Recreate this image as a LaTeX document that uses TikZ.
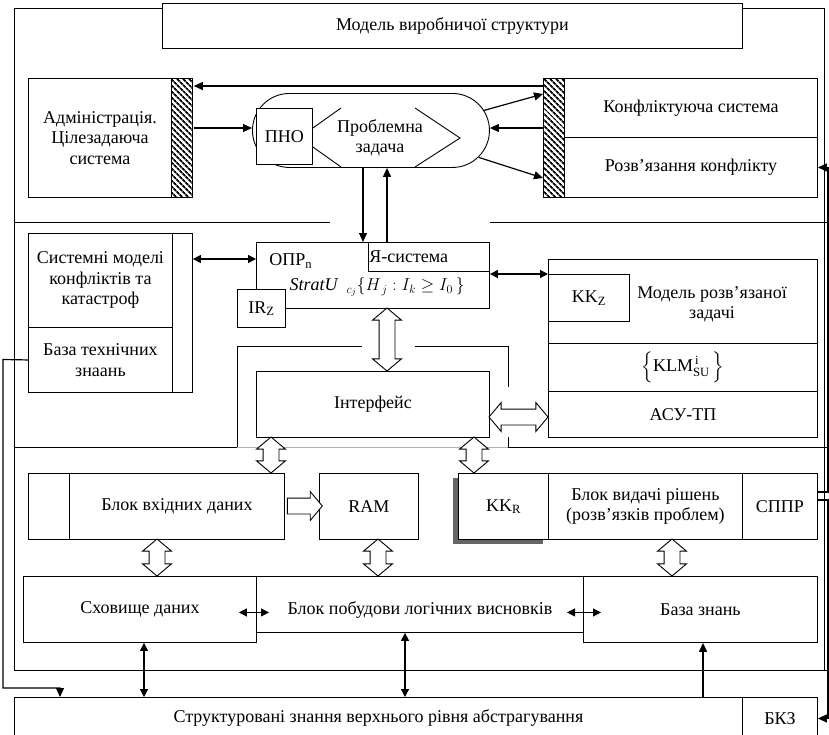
\documentclass[tikz,border=0pt]{standalone}
\usepackage{amsmath}
\usepackage{fontspec}
\setmainfont{Liberation Serif}
\usetikzlibrary{arrows.meta,calc,shapes.arrows,patterns.meta,shadows}

\begin{document}
\begin{tikzpicture}[x=1pt, y=-1pt, line width=0.9pt, every node/.style={font=\fontsize{18}{20.5}\selectfont, align=center}, box/.style={draw, fill=white, anchor=north west, inner sep=0pt}, hatch/.style={box, pattern={Lines[angle=-45,distance=4pt,line width=1.8pt]}}, arr/.style={-{Triangle[length=9pt,width=8pt]}, line width=1.2pt}, darr/.style={{Triangle[length=8pt,width=8pt]}-{Triangle[length=8pt,width=8pt]}, line width=1.2pt}, hollow/.style={double arrow, draw, fill=white, inner xsep=0pt, inner ysep=7.5pt, double arrow head extend=6.5pt, double arrow tip angle=100}, hollowone/.style={single arrow, draw, fill=white, inner xsep=0pt, inner ysep=7.5pt, single arrow head extend=6.5pt, single arrow tip angle=100}]
\useasboundingbox (0,0) rectangle (829,734);
% outer frame and separators
\draw (162,8) -- (14,8) -- (14,670) -- (828,670);
\draw (742,8) -- (824,8) -- (824,670);
\draw (14,222) -- (330,222); \draw (490,222) -- (828,222);
\draw (14,447) -- (237,447) -- (237,346) -- (362,346);
\draw (415,346) -- (508,346) -- (508,387);
\draw (508,437) -- (508,447) -- (828,447);
\draw[black!30] (237,447) -- (508,447);
\node[box, minimum width=580, minimum height=45] (title) at (162,3) {Модель виробничої структури};
% top level
\node[box, minimum width=143, minimum height=119] (adm) at (28,78) {Адміністрація.\\Цілезадаюча\\система};
\node[hatch, minimum width=21, minimum height=119] (admhatch) at (171,78) {};
\node[hatch, minimum width=21, minimum height=119] (confhatch) at (543,78) {};
\node[box, minimum width=253, minimum height=59] (conf) at (564,78) {Конфліктуюча система};
\node[box, minimum width=253, minimum height=60] (res) at (564,137) {Розв’язання конфлікту};
\node[box, rounded corners=37pt, minimum width=237, minimum height=74] (pill) at (252,93) {};
\node[box, minimum width=56, minimum height=56] (pno) at (256,108) {ПНО};
\node (prob) at (380,138) {Проблемна\\задача};
\draw (pno.east |- 0,128) -- (341,108);
\draw (pno.east |- 0,147) -- (341,167);
\draw (415,108) -- (460,138) -- (415,167);
\draw[arr] (confhatch.west |- 0,86) -- (admhatch.east |- 0,86);
\draw[arr] (admhatch.east |- 0,128) -- (pill.west |- 0,128);
\draw[arr] ($(pill.east)+(-6,-20)$) -- (confhatch.west |- 0,94);
\draw[arr] (confhatch.west |- 0,128) -- (pill.east |- 0,128);
\draw[arr] ($(pill.east)+(-11,27)$) -- (confhatch.west |- 0,178);
% decision maker level
\node[box, minimum width=233, minimum height=66] (opr) at (256,242) {};
\node[box, minimum width=121, minimum height=29, text width=119pt, inner xsep=1pt, align=left] (ya) at (368,242) {Я-система};
\node[anchor=west, inner sep=0pt] (oprn) at (269,261) {ОПР\textsubscript{n}};
\node (strat) at (377,287) {$\mathit{StratU}\ \ {}_{c_j}\{H_{\,j} : I_k \geq I_0\,\}$};
\node[box, minimum width=48, minimum height=38] (irz) at (237,289) {IR\textsubscript{Z}};
\draw[arr] (pill.south -| 363,0) -- (opr.north -| 363,0);
\draw[arr] (ya.north -| 387,0) -- (pill.south -| 387,0);
\node[box, minimum width=20, minimum height=159] (sysstrip) at (172,233) {};
\node[box, minimum width=144, minimum height=94] (sysmod) at (28,233) {Системні моделі\\конфліктів та\\катастроф};
\node[box, minimum width=144, minimum height=65] (techkb) at (28,327) {База технічних\\знаань};
\node[box, minimum width=269, minimum height=84] (modtop) at (548,259) {};
\node (modtext) at (712,304) {Модель розв’язаної\\задачі};
\node[box, minimum width=81, minimum height=47] (kkz) at (548,274) {KK\textsubscript{Z}};
\node[box, minimum width=269, minimum height=48] (klm) at (548,343) {$\Bigl\{\text{KLM}^{\,\text{i}}_{\text{SU}}\,\Bigr\}$};
\node[box, minimum width=269, minimum height=46] (asu) at (548,391) {АСУ-ТП};
\node[box, minimum width=233, minimum height=66] (intf) at (256,371) {Інтерфейс};
\draw[darr] (sysstrip.east |- 0,259) -- (opr.west |- 0,259);
\draw[darr] (opr.east |- 0,274) -- (modtop.west |- 0,274);
\node[hollow, rotate=90, minimum height=63] (oprintf) at (387,339.5) {};
\node[hollow, minimum height=59] (intfmod) at (518.5,417) {};
% lower level
\node[box, minimum width=41, minimum height=66] (inpstub) at (28,473) {};
\node[box, minimum width=215, minimum height=66] (inp) at (69,473) {Блок вхідних даних};
\node[box, minimum width=99, minimum height=66] (ram) at (319,473) {RAM};
\node[box, minimum width=90, minimum height=66, drop shadow={shadow xshift=-5pt, shadow yshift=-5pt, fill=black!60, opacity=1}] (kkr) at (458,473) {KK\textsubscript{R}};
\node[box, minimum width=194, minimum height=66] (dec) at (548,473) {Блок видачі рішень\\(розв’язків проблем)};
\node[box, minimum width=75, minimum height=66] (sppr) at (742,473) {СППР};
\node[hollow, rotate=90, minimum height=36] (intfinp) at (271,455) {};
\node[hollow, rotate=90, minimum height=36] (intfkkr) at (474,455) {};
\node[hollowone, minimum height=35] (inpram) at (301.5,506) {};
\node[box, minimum width=233, minimum height=66] (store) at (23,576) {Сховище даних};
\node[box, minimum width=327, minimum height=56] (infer) at (256,576) {};
\node (infertext) at (420,610) {Блок побудови логічних висновків};
\node[box, minimum width=234, minimum height=66] (kb) at (583,576) {База знань};
\node[hollow, rotate=90, minimum height=37] (inpstore) at (157,557.5) {};
\node[hollow, rotate=90, minimum height=37] (raminfer) at (378,557.5) {};
\node[hollow, rotate=90, minimum height=37] (deckb) at (672,557.5) {};
\draw[darr] ($(store.east)+(-18,3)$) -- ($(infer.west)+(13,8)$);
\draw[darr] ($(kb.west)+(-16,3)$) -- ($(kb.west)+(18,3)$);
% structured knowledge
\node[box, minimum width=728, minimum height=42] (struct) at (14,697) {Структуровані знання верхнього рівня абстрагування};
\node[box, minimum width=75, minimum height=42] (bkz) at (742,697) {БКЗ};
\draw[darr] (store.south -| 144,0) -- (struct.north -| 144,0);
\draw[darr] (infer.south -| 405,0) -- (struct.north -| 405,0);
\draw[arr] (struct.north -| 703,0) -- (kb.south -| 703,0);
\draw[arr] (techkb.west) -- (3,359.5) -- (3,688) -| (struct.north -| 60,0);
\draw[arr] (sppr.east |- 0,492) -- (828,492) |- (res.east);
\draw[arr] (sppr.east |- 0,500) -- (828,500) |- (bkz.east);
\end{tikzpicture}
\end{document}
